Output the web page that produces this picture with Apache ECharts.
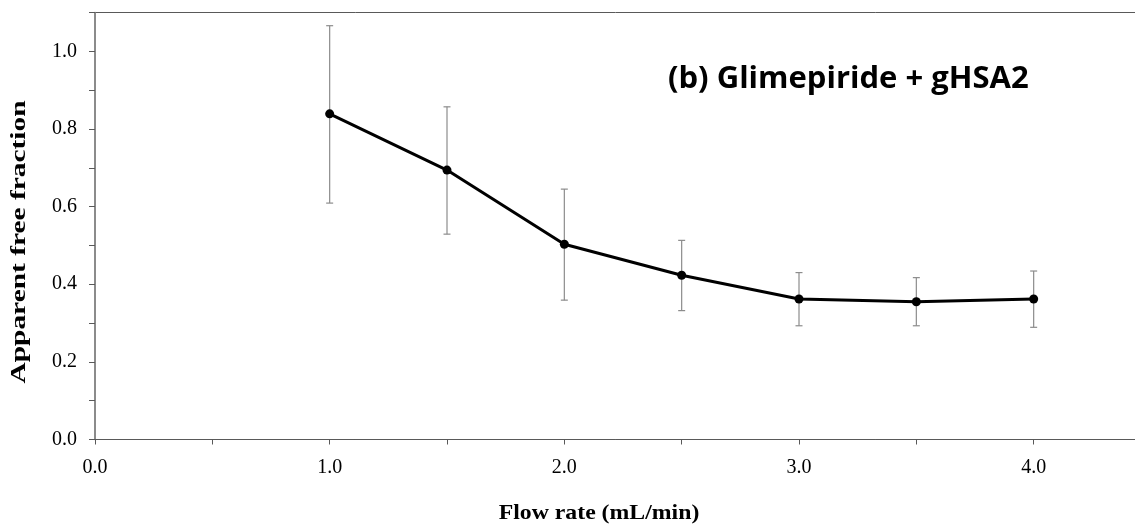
<!DOCTYPE html>
<html>
<head>
<meta charset="utf-8">
<script src="https://cdn.jsdelivr.net/npm/echarts@6/dist/echarts.min.js"></script>
<style>
  html, body { margin: 0; padding: 0; background: #ffffff; }
  #chart { width: 1135px; height: 529px; }
</style>
</head>
<body>
<div id="chart"></div>
<script>
// ---- Data ----
const flowRate     = [1.0, 1.5, 2.0, 2.5, 3.0, 3.5, 4.0];
const freeFraction = [0.839, 0.694, 0.503, 0.423, 0.362, 0.355, 0.362];
const errLower     = [0.609, 0.529, 0.359, 0.332, 0.293, 0.293, 0.289];
const errUpper     = [1.066, 0.857, 0.645, 0.513, 0.430, 0.417, 0.434];

const chartTitle = '(b) Glimepiride + gHSA2';
const xTitle = 'Flow rate (mL/min)';
const yTitle = 'Apparent free fraction';

const lineData = flowRate.map((x, i) => [x, freeFraction[i]]);
const errData  = flowRate.map((x, i) => [x, errLower[i], errUpper[i]]);

const chart = echarts.init(document.getElementById('chart'), null, { renderer: 'canvas' });

function fmt1(v) {
  const k = Math.round(v * 10);
  return k % 2 === 0 ? (k / 10).toFixed(1) : '';
}
function fmtInt(v) {
  const k = Math.round(v * 2);
  return k % 2 === 0 ? (k / 2).toFixed(1) : '';
}

const option = {
  animation: false,
  backgroundColor: '#ffffff',
  grid: {
    left: 95, right: -16, top: 12.5, bottom: 89.5,
    containLabel: false, outerBoundsMode: 'none',
    show: true, borderColor: '#595959', borderWidth: 1, backgroundColor: 'transparent'
  },
  title: {
    text: chartTitle,
    left: 663, top: 59,
    textStyle: { fontFamily: 'Open Sans', fontWeight: 'bold', fontSize: 31, color: '#000000' }
  },
  xAxis: {
    type: 'value', min: 0, max: 4.5, interval: 0.5,
    axisLine: { show: true, onZero: false, lineStyle: { color: '#595959', width: 1 } },
    axisTick: { show: true, inside: false, length: 5, lineStyle: { color: '#595959' } },
    splitLine: { show: false },
    axisLabel: {
      formatter: fmtInt, margin: 18, color: '#000000',
      fontFamily: 'Liberation Serif', fontSize: 20
    }
  },
  yAxis: {
    type: 'value', min: 0, max: 1.1, interval: 0.1,
    axisLine: { show: true, onZero: false, lineStyle: { color: '#808080', width: 1.5 } },
    axisTick: { show: true, inside: false, length: 6, lineStyle: { color: '#595959' } },
    splitLine: { show: false },
    axisLabel: {
      formatter: fmt1, margin: 18, color: '#000000',
      fontFamily: 'Liberation Serif', fontSize: 20
    }
  },
  graphic: [
    {
      type: 'text', x: 20, y: 242, rotation: Math.PI / 2, scaleX: 1.47,
      style: {
        text: yTitle, align: 'center', verticalAlign: 'middle',
        font: 'bold 20px "Liberation Serif"', fill: '#000000'
      }
    },
    {
      type: 'text', x: 599, y: 513, scaleX: 1.08,
      style: {
        text: xTitle, align: 'center', verticalAlign: 'middle',
        font: 'bold 22px "Liberation Serif"', fill: '#000000'
      }
    }
  ],
  series: [
    {
      type: 'custom',
      data: errData,
      z: 1,
      clip: false,
      renderItem: function (params, api) {
        const x = api.value(0);
        const lo = api.coord([x, api.value(1)]);
        const hi = api.coord([x, api.value(2)]);
        const hw = 3.5;
        const style = { stroke: '#8c8c8c', lineWidth: 1.2 };
        return {
          type: 'group',
          children: [
            { type: 'line', shape: { x1: lo[0], y1: lo[1], x2: hi[0], y2: hi[1] }, style: style },
            { type: 'line', shape: { x1: lo[0] - hw, y1: lo[1], x2: lo[0] + hw, y2: lo[1] }, style: style },
            { type: 'line', shape: { x1: hi[0] - hw, y1: hi[1], x2: hi[0] + hw, y2: hi[1] }, style: style }
          ]
        };
      }
    },
    {
      type: 'line',
      data: lineData,
      z: 3,
      symbol: 'circle',
      symbolSize: 9,
      itemStyle: { color: '#000000' },
      lineStyle: { color: '#000000', width: 3 }
    }
  ]
};

chart.setOption(option);
</script>
</body>
</html>
